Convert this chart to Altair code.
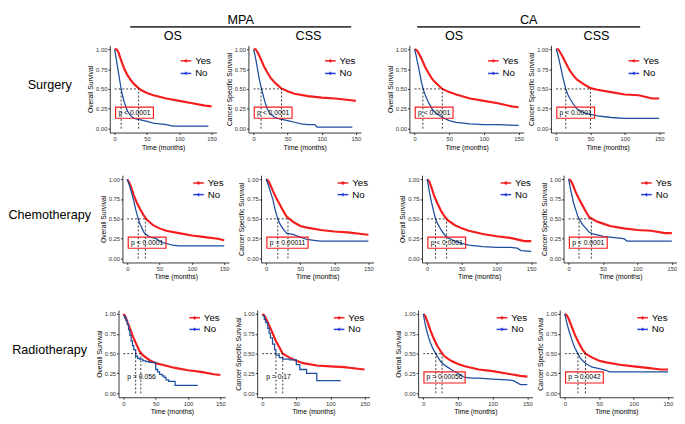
import altair as alt
import pandas as pd

FONT = "Liberation Sans"
RED = "#F41C1C"
BLUE = "#1F4E9E"
KEYBLUE = "#2B3FE0"

row_labels = ["Surgery", "Chemotherapy", "Radiotherapy"]
group_labels = ["MPA", "CA"]
endpoint_labels = ["OS", "CSS", "OS", "CSS"]
y_titles = ["Overall Survival", "Cancer Specific Survival", "Overall Survival", "Cancer Specific Survival"]

# time grid at which the "Yes" curves were read
yes_time = [0, 3, 6, 10, 15, 20, 25, 30, 40, 50, 60, 80, 100, 120, 140, 150]

# ---------------- Surgery ----------------
surg_mpa_os_yes = [1.0, 1.0, 0.96, 0.86, 0.75, 0.67, 0.61, 0.56, 0.49, 0.45, 0.42, 0.38, 0.35, 0.32, 0.29, 0.28]
surg_mpa_os_no_t = [0, 2, 4, 6, 8, 10, 12, 15, 18, 20, 25, 30, 40, 50, 60, 70, 80, 90, 100, 120, 145]
surg_mpa_os_no_s = [1.0, 0.9, 0.8, 0.7, 0.6, 0.5, 0.42, 0.33, 0.26, 0.22, 0.16, 0.13, 0.11, 0.09, 0.07, 0.06, 0.05, 0.03, 0.03, 0.03, 0.03]

surg_mpa_css_yes = [1.0, 1.0, 0.96, 0.89, 0.79, 0.71, 0.64, 0.59, 0.51, 0.47, 0.44, 0.41, 0.39, 0.38, 0.36, 0.35]
surg_mpa_css_no_t = [0, 2, 4, 6, 8, 10, 12, 15, 18, 20, 25, 30, 35, 40, 50, 60, 70, 80, 90, 93, 100, 120, 145]
surg_mpa_css_no_s = [1.0, 0.93, 0.84, 0.74, 0.64, 0.56, 0.49, 0.39, 0.3, 0.25, 0.18, 0.15, 0.13, 0.12, 0.1, 0.08, 0.06, 0.05, 0.05, 0.02, 0.02, 0.02, 0.02]

surg_ca_os_yes = [1.0, 0.99, 0.95, 0.88, 0.78, 0.70, 0.63, 0.58, 0.50, 0.46, 0.43, 0.38, 0.35, 0.32, 0.28, 0.27]
surg_ca_os_no_t = [0, 2, 4, 6, 8, 10, 12, 15, 20, 25, 30, 40, 50, 60, 80, 100, 120, 150]
surg_ca_os_no_s = [1.0, 0.93, 0.84, 0.76, 0.67, 0.58, 0.51, 0.43, 0.33, 0.25, 0.2, 0.14, 0.1, 0.08, 0.06, 0.05, 0.05, 0.04]

surg_ca_css_yes = [1.0, 1.0, 0.96, 0.90, 0.81, 0.73, 0.67, 0.62, 0.56, 0.51, 0.49, 0.46, 0.43, 0.42, 0.38, 0.38]
surg_ca_css_no_t = [0, 2, 4, 6, 8, 10, 12, 14, 17, 20, 25, 30, 40, 50, 60, 80, 100, 120, 150]
surg_ca_css_no_s = [1.0, 0.95, 0.88, 0.8, 0.72, 0.64, 0.57, 0.5, 0.43, 0.38, 0.31, 0.25, 0.2, 0.18, 0.16, 0.14, 0.13, 0.13, 0.13]

# ---------------- Chemotherapy ----------------
chemo_mpa_os_yes = [1.0, 0.96, 0.90, 0.80, 0.70, 0.62, 0.55, 0.49, 0.42, 0.38, 0.35, 0.32, 0.29, 0.27, 0.25, 0.23]
chemo_mpa_os_no_t = [0, 3, 6, 10, 13, 15, 17, 20, 23, 25, 28, 30, 35, 40, 45, 50, 55, 60, 65, 70, 80, 100, 120, 140, 150]
chemo_mpa_os_no_s = [1.0, 0.93, 0.85, 0.73, 0.62, 0.56, 0.5, 0.43, 0.38, 0.34, 0.31, 0.3, 0.27, 0.26, 0.25, 0.22, 0.2, 0.19, 0.18, 0.17, 0.16, 0.16, 0.16, 0.16, 0.16]

chemo_mpa_css_yes = [1.0, 0.98, 0.93, 0.85, 0.76, 0.68, 0.60, 0.53, 0.46, 0.41, 0.39, 0.36, 0.34, 0.33, 0.31, 0.30]
chemo_mpa_css_no_t = [0, 3, 6, 10, 13, 17, 20, 25, 30, 35, 40, 50, 60, 70, 80, 90, 100, 120, 150]
chemo_mpa_css_no_s = [1.0, 0.93, 0.85, 0.74, 0.62, 0.5, 0.44, 0.37, 0.32, 0.31, 0.3, 0.27, 0.24, 0.23, 0.22, 0.22, 0.22, 0.22, 0.22]

chemo_ca_os_yes = [1.0, 0.97, 0.90, 0.79, 0.69, 0.60, 0.53, 0.48, 0.42, 0.38, 0.35, 0.31, 0.28, 0.26, 0.22, 0.22]
chemo_ca_os_no_t = [0, 2, 4, 7, 10, 12, 15, 20, 25, 30, 35, 40, 50, 60, 70, 80, 100, 120, 130, 135, 150]
chemo_ca_os_no_s = [1.0, 0.9, 0.8, 0.68, 0.57, 0.5, 0.44, 0.36, 0.3, 0.26, 0.24, 0.22, 0.19, 0.17, 0.16, 0.15, 0.14, 0.14, 0.13, 0.1, 0.09]

chemo_ca_css_yes = [1.0, 0.98, 0.93, 0.84, 0.75, 0.67, 0.59, 0.52, 0.47, 0.44, 0.41, 0.38, 0.36, 0.35, 0.32, 0.32]
chemo_ca_css_no_t = [0, 2, 4, 7, 10, 13, 15, 20, 25, 30, 35, 40, 50, 60, 70, 80, 85, 100, 120, 150]
chemo_ca_css_no_s = [1.0, 0.9, 0.82, 0.7, 0.62, 0.54, 0.5, 0.43, 0.38, 0.33, 0.31, 0.3, 0.28, 0.27, 0.26, 0.25, 0.22, 0.22, 0.22, 0.22]

# ---------------- Radiotherapy ----------------
radio_mpa_os_yes = [1.0, 0.97, 0.90, 0.82, 0.71, 0.62, 0.53, 0.48, 0.42, 0.38, 0.36, 0.32, 0.29, 0.27, 0.24, 0.23]
radio_mpa_os_no_t = [0, 2, 4, 6, 8, 10, 12, 14, 16, 19, 22, 25, 30, 35, 40, 50, 53, 56, 60, 63, 66, 70, 80, 115]
radio_mpa_os_no_s = [0.98, 0.95, 0.92, 0.87, 0.8, 0.73, 0.66, 0.6, 0.55, 0.47, 0.44, 0.43, 0.41, 0.4, 0.39, 0.3, 0.27, 0.24, 0.22, 0.2, 0.17, 0.15, 0.1, 0.1]

radio_mpa_css_yes = [1.0, 0.98, 0.93, 0.86, 0.76, 0.66, 0.58, 0.50, 0.45, 0.41, 0.38, 0.35, 0.34, 0.33, 0.31, 0.30]
radio_mpa_css_no_t = [0, 3, 5, 8, 10, 12, 15, 18, 20, 25, 30, 40, 50, 55, 65, 80, 115]
radio_mpa_css_no_s = [0.98, 0.93, 0.89, 0.82, 0.76, 0.7, 0.62, 0.55, 0.48, 0.45, 0.43, 0.42, 0.36, 0.3, 0.25, 0.16, 0.16]

radio_ca_os_yes = [1.0, 0.97, 0.90, 0.80, 0.69, 0.60, 0.53, 0.47, 0.41, 0.37, 0.34, 0.30, 0.28, 0.25, 0.22, 0.21]
radio_ca_os_no_t = [0, 2, 4, 7, 10, 14, 18, 22, 25, 30, 35, 40, 50, 60, 70, 80, 100, 120, 130, 140, 150]
radio_ca_os_no_s = [1.0, 0.9, 0.82, 0.72, 0.64, 0.56, 0.5, 0.44, 0.4, 0.36, 0.33, 0.3, 0.25, 0.2, 0.19, 0.19, 0.18, 0.17, 0.16, 0.11, 0.11]

radio_ca_css_yes = [1.0, 0.98, 0.93, 0.84, 0.73, 0.64, 0.56, 0.50, 0.45, 0.41, 0.39, 0.36, 0.34, 0.32, 0.30, 0.30]
radio_ca_css_no_t = [0, 2, 4, 7, 10, 14, 19, 22, 25, 30, 35, 40, 50, 60, 65, 80, 100, 120, 150]
radio_ca_css_no_s = [1.0, 0.92, 0.85, 0.76, 0.68, 0.58, 0.5, 0.45, 0.42, 0.38, 0.35, 0.33, 0.31, 0.29, 0.27, 0.27, 0.27, 0.27, 0.27]

# median survival (No, Yes) per panel
medians_surgery = [(10, 37), (11, 41), (12, 40), (14, 50)]
medians_chemo = [(17, 28), (17, 32), (12, 28), (15, 33)]
medians_radio = [(19, 27), (20, 30), (18, 27), (19, 30)]

p_surgery = ["p < 0.0001", "p < 0.0001", "p < 0.0001", "p < 0.0001"]
p_chemo = ["p < 0.0001", "p = 0.00011", "p < 0.0001", "p < 0.0001"]
p_radio = ["p = 0.056", "p = 0.17", "p = 0.00056", "p = 0.0042"]
p_boxed_radio = [False, False, True, True]

curves = [
    [(surg_mpa_os_yes, surg_mpa_os_no_t, surg_mpa_os_no_s),
     (surg_mpa_css_yes, surg_mpa_css_no_t, surg_mpa_css_no_s),
     (surg_ca_os_yes, surg_ca_os_no_t, surg_ca_os_no_s),
     (surg_ca_css_yes, surg_ca_css_no_t, surg_ca_css_no_s)],
    [(chemo_mpa_os_yes, chemo_mpa_os_no_t, chemo_mpa_os_no_s),
     (chemo_mpa_css_yes, chemo_mpa_css_no_t, chemo_mpa_css_no_s),
     (chemo_ca_os_yes, chemo_ca_os_no_t, chemo_ca_os_no_s),
     (chemo_ca_css_yes, chemo_ca_css_no_t, chemo_ca_css_no_s)],
    [(radio_mpa_os_yes, radio_mpa_os_no_t, radio_mpa_os_no_s),
     (radio_mpa_css_yes, radio_mpa_css_no_t, radio_mpa_css_no_s),
     (radio_ca_os_yes, radio_ca_os_no_t, radio_ca_os_no_s),
     (radio_ca_css_yes, radio_ca_css_no_t, radio_ca_css_no_s)],
]
medians = [medians_surgery, medians_chemo, medians_radio]
pvals = [p_surgery, p_chemo, p_radio]
boxed = [[True] * 4, [True] * 4, p_boxed_radio]
stepped = [[False] * 4, [False] * 4, [True, True, False, False]]

# ---------------- layout ----------------
H = 90
WIDTHS = [110, 116, 118, 117]
LEGEND_Y = [(16, 29), (8, 20), (8, 20)]

xs = alt.Scale(domain=[-7.5, 157.5], nice=False, zero=False)
ys = alt.Scale(domain=[-0.05, 1.05], nice=False, zero=False)


def ypx(v):
    return (1.05 - v) / 1.1 * H


def panel(r, c):
    yes_s, no_t, no_s = curves[r][c]
    W = WIDTHS[c]
    df_yes = pd.DataFrame({"t": yes_time, "s": yes_s})
    df_no = pd.DataFrame({"t": no_t, "s": no_s})
    xax = alt.Axis(values=[0, 50, 100, 150], title="Time (months)")
    yax = alt.Axis(values=[0, 0.25, 0.5, 0.75, 1.0], format=".2f", title=y_titles[c])
    X = alt.X("t:Q", scale=xs, axis=xax)
    Y = alt.Y("s:Q", scale=ys, axis=yax)

    yes_line = alt.Chart(df_yes).mark_line(color=RED, strokeWidth=2.2).encode(x=X, y=Y)
    no_line = alt.Chart(df_no).mark_line(
        color=BLUE, strokeWidth=1.3,
        interpolate="step-after" if stepped[r][c] else "linear").encode(x=X, y=Y)

    m_no, m_yes = medians[r][c]
    df_h = pd.DataFrame({"t": [0], "t2": [max(m_no, m_yes)], "s": [0.5]})
    df_v = pd.DataFrame({"t": [m_no, m_yes], "s": [0.0, 0.0], "s2": [0.5, 0.5]})
    hline = alt.Chart(df_h).mark_rule(color="black", strokeDash=[2, 2], strokeWidth=0.8).encode(
        x=X, x2="t2", y=Y)
    vline = alt.Chart(df_v).mark_rule(color="black", strokeDash=[2, 2], strokeWidth=0.8).encode(
        x=X, y=Y, y2="s2")

    ptxt = pvals[r][c]
    bw = 4 + 3.5 * len(ptxt)
    bx = 6
    df_p = pd.DataFrame({"p": [ptxt]})
    ptext = alt.Chart(df_p).mark_text(fontSize=7, color="black", font=FONT).encode(
        text="p:N", x=alt.value(bx + bw / 2), y=alt.value((ypx(0.27) + ypx(0.13)) / 2))
    layers = [yes_line, no_line, hline, vline, ptext]
    if boxed[r][c]:
        box = alt.Chart(df_p).mark_rect(fillOpacity=0, stroke=RED, strokeWidth=1.2).encode(
            x=alt.value(bx), x2=alt.value(bx + bw), y=alt.value(ypx(0.27)), y2=alt.value(ypx(0.13)))
        layers.append(box)

    for name, col, ly in [("Yes", RED, LEGEND_Y[r][0]), ("No", KEYBLUE, LEGEND_Y[r][1])]:
        df_l = pd.DataFrame({"g": [name]})
        layers.append(alt.Chart(df_l).mark_rule(color=col, strokeWidth=1.5).encode(
            x=alt.value(W - 37), x2=alt.value(W - 26), y=alt.value(ly)))
        layers.append(alt.Chart(df_l).mark_point(shape="cross", filled=True, size=12, color=col, opacity=1).encode(
            x=alt.value(W - 31.5), y=alt.value(ly)))
        layers.append(alt.Chart(df_l).mark_text(align="left", baseline="middle", fontSize=10, font=FONT,
                                                color="black").encode(
            text="g:N", x=alt.value(W - 22), y=alt.value(ly)))
    return alt.layer(*layers).properties(width=W, height=H)


def row_chart(r):
    lab = alt.Chart(pd.DataFrame({"label": [row_labels[r]]})).mark_text(
        fontSize=13, font=FONT, color="black").encode(
        text="label:N", x=alt.value(42), y=alt.value(41)).properties(width=72, height=H)
    mpa = alt.hconcat(panel(r, 0), panel(r, 1), spacing=8)
    ca = alt.hconcat(panel(r, 2), panel(r, 3), spacing=4)
    return alt.hconcat(lab, alt.hconcat(mpa, ca, spacing=26), spacing=8)


# header
hdr_layers = []
group_x = [239, 536]
group_line = [(125, 353), (421, 651)]
sub_x = [169, 309, 459, 606]
for g, gx, (l0, l1) in zip(group_labels, group_x, group_line):
    d = pd.DataFrame({"label": [g]})
    hdr_layers.append(alt.Chart(d).mark_text(fontSize=13, font=FONT, color="black").encode(
        text="label:N", x=alt.value(gx), y=alt.value(5.5)))
    hdr_layers.append(alt.Chart(d).mark_rule(color="#404040", strokeWidth=2).encode(
        x=alt.value(l0), x2=alt.value(l1), y=alt.value(12)))
for e, sx in zip(endpoint_labels, sub_x):
    d = pd.DataFrame({"label": [e]})
    hdr_layers.append(alt.Chart(d).mark_text(fontSize=13, font=FONT, color="black").encode(
        text="label:N", x=alt.value(sx), y=alt.value(22)))
header = alt.layer(*hdr_layers).properties(width=670, height=28)

top = alt.vconcat(header, row_chart(0), spacing=1)
mid = alt.vconcat(top, row_chart(1), spacing=25)
chart = alt.vconcat(mid, row_chart(2), spacing=30).properties(padding=0).configure(
    font=FONT).configure_view(stroke=None).configure_axis(
    grid=False, domainColor="black", tickColor="black", domainWidth=0.8, tickWidth=0.8,
    tickSize=2, labelFontSize=6, titleFontSize=7, titleFontWeight="normal",
    labelColor="#333333", titleColor="black", labelPadding=1, titlePadding=2,
    labelFont=FONT, titleFont=FONT)

chart.save("out.html", embed_options={"renderer": "svg", "actions": False})
